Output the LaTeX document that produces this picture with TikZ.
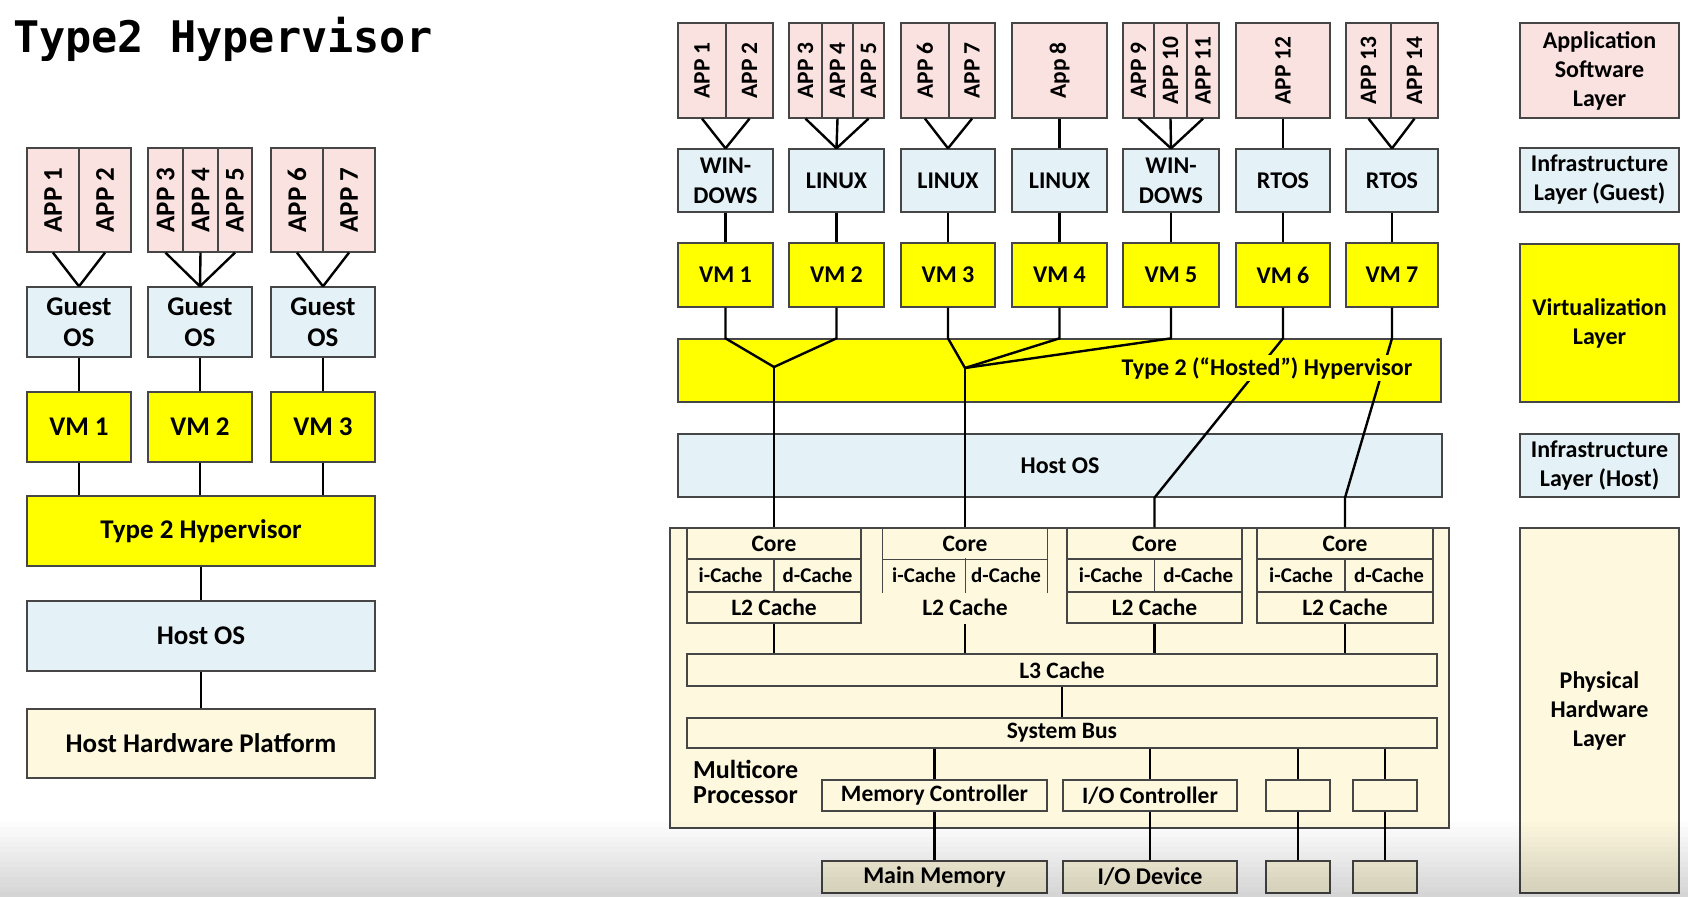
\documentclass[tikz,border=0pt]{standalone}
\usepackage{fontspec}
\setmainfont{Carlito}
\newfontfamily\titlefont{DejaVu Sans Mono}
\usepackage{graphicx}
\usetikzlibrary{positioning,calc}

\definecolor{apppink}{RGB}{250,226,224}
\definecolor{osblue}{RGB}{228,242,248}
\definecolor{vmyellow}{RGB}{255,255,0}
\definecolor{hwcream}{RGB}{253,248,222}
\definecolor{edgegray}{RGB}{70,70,70}

\begin{document}
\begin{tikzpicture}[x=1pt,y=-1pt,
  box/.style={draw=edgegray,line width=1.3pt,inner sep=0pt,align=center,font=\bfseries\fontsize{24}{30}\selectfont},
  app/.style={box,fill=apppink},
  os/.style={box,fill=osblue},
  vm/.style={box,fill=vmyellow},
  hw/.style={box,fill=hwcream},
  cell/.style={box,font=\bfseries\fontsize{23.5}{26}\selectfont},
  bare/.style={cell,draw=none},
  small/.style={font=\bfseries\fontsize{21}{24}\selectfont},
  applbl/.style={font=\bfseries\fontsize{23.5}{26}\selectfont},
  lft/.style={font=\bfseries\fontsize{27}{31}\selectfont},
  legend/.style={font=\bfseries\fontsize{24}{29}\selectfont},
  txt/.style={inner sep=0pt,font=\bfseries\fontsize{24}{26}\selectfont},
  wire/.style={line width=2.4pt,black}]
\fill[white] (0,0) rectangle (1688,897);
\useasboundingbox (0,0) rectangle (1688,897);

\node[anchor=base west,inner sep=0pt,font=\titlefont\bfseries\fontsize{43.5}{48}\selectfont] (title) at (13,52) {Type2 Hypervisor};

% left stack
\foreach \n/\x/\w/\t in {la1/53/52/APP 1,la2/105/52/APP 2,la3/165.5/35/APP 3,la4/200.5/35/APP 4,la5/235/34/APP 5,la6/297/52/APP 6,la7/349/52/APP 7}
  \node[app,lft,minimum width=\w,minimum height=104] (\n) at (\x,200) {\rotatebox{90}{\t}};
\foreach \i/\x in {1/79,2/200,3/323}{
  \node[os,lft,minimum width=104,minimum height=70] (lo\i) at (\x,322) {Guest\\OS};
  \node[vm,lft,minimum width=104,minimum height=70] (lv\i) at (\x,427) {VM \i};
}
\node[vm,lft,minimum width=348,minimum height=70] (lhyp) at (201,531) {Type 2 Hypervisor};
\node[os,lft,minimum width=348,minimum height=70] (lhost) at (201,636) {Host OS};
\node[hw,lft,minimum width=348,minimum height=69] (lhw) at (201,743.5) {Host Hardware Platform};

\foreach \a/\o in {la1/lo1,la2/lo1,la3/lo2,la4/lo2,la5/lo2,la6/lo3,la7/lo3}
  \draw[wire] (\a.south) -- (\o.north);
\foreach \i in {1,2,3}{
  \draw[wire] (lo\i) -- (lv\i);
  \draw[wire] (lv\i.south) -- (lv\i.south |- lhyp.north);
}
\draw[wire] (lhyp) -- (lhost);
\draw[wire] (lhost) -- (lhw);

% right stack: guests
\foreach \n/\x/\w/\t in {ra1/702/48/APP 1,ra2/749.5/47/APP 2,ra3/805.5/33/APP 3,ra4/837.5/31/APP 4,ra5/868.5/31/APP 5,ra6/925/48/APP 6,ra7/972/46/APP 7,ra8/1059.5/95/App 8,ra9/1138.5/31/APP 9,ra10/1170.5/33/APP 10,ra11/1203/32/APP 11,ra12/1283/94/APP 12,ra13/1368.5/45/APP 13,ra14/1414.5/47/APP 14}
  \node[app,applbl,minimum width=\w,minimum height=95] (\n) at (\x,70.5) {\rotatebox{90}{\t}};
\foreach \i/\x/\w/\t in {1/725.5/95/WIN-\\DOWS,2/836.5/95/LINUX,3/948/94/LINUX,4/1059.5/95/LINUX,5/1171/96/WIN-\\DOWS,6/1283/94/RTOS,7/1392/92/RTOS}{
  \node[os,minimum width=\w,minimum height=63] (ro\i) at (\x,180.5) {\t};
  \node[vm,minimum width=\w,minimum height=64] (rv\i) at (\x,275) {VM \i};
  \draw[wire] (ro\i) -- (rv\i);
}
\foreach \a/\o in {ra1/ro1,ra2/ro1,ra3/ro2,ra4/ro2,ra5/ro2,ra6/ro3,ra7/ro3,ra8/ro4,ra9/ro5,ra10/ro5,ra11/ro5,ra12/ro6,ra13/ro7,ra14/ro7}
  \draw[wire] (\a.south) -- (\o.north);

% hypervisor and host
\node[vm,minimum width=763,minimum height=63] (rhyp) at (1059.5,370.5) {};
\node[os,minimum width=764,minimum height=63] (rhost) at (1060,465.5) {Host OS};

% multicore processor
\node[hw,minimum width=779,minimum height=300] (proc) at (1059.5,678) {};
\foreach \k/\cx/\cw in {1/774/174,3/1154.5/175,4/1345/176}{
  \node[cell,minimum width=\cw,minimum height=31] (core\k) at (\cx,543.5) {Core};
  \node[cell,small,minimum width=\cw/2,minimum height=33] (ic\k) at ({\cx-\cw/4},575.5) {i-Cache};
  \node[cell,small,minimum width=\cw/2,minimum height=33] (dc\k) at ({\cx+\cw/4},575.5) {d-Cache};
  \node[cell,minimum width=\cw,minimum height=31] (ltwo\k) at (\cx,607.5) {L2 Cache};
}
\node[bare,minimum width=164,minimum height=31] (core2) at (965,543.5) {Core};
\node[bare,small,minimum width=82,minimum height=33] (ic2) at (924,575.5) {i-Cache};
\node[bare,small,minimum width=82,minimum height=33] (dc2) at (1006,575.5) {d-Cache};
\node[bare,minimum width=164,minimum height=31] (ltwo2) at (965,607.5) {L2 Cache};
\draw[draw=edgegray,line width=1.3pt] (core2.north west) -- (ic2.south west)
  (core2.north east) -- (dc2.south east) (core2.south west) -- (core2.south east)
  (ic2.north east) -- (ic2.south east);

\node[cell,minimum width=750,minimum height=32] (l3) at (1062,670) {L3 Cache};
\node[cell,minimum width=750,minimum height=30] (bus) at (1062,733) {System Bus};
\node[cell,minimum width=225,minimum height=31] (mc) at (934.5,795.5) {Memory Controller};
\node[cell,minimum width=174,minimum height=31] (ioc) at (1150,795.5) {I/O Controller};
\node[cell,minimum width=64,minimum height=31] (sa) at (1298,795.5) {};
\node[cell,minimum width=64,minimum height=31] (sb) at (1385,795.5) {};
\node[hw,minimum width=225,minimum height=32] (mm) at (934.5,877) {Main Memory};
\node[hw,minimum width=174,minimum height=32] (iod) at (1150,877) {I/O Device};
\node[hw,minimum width=64,minimum height=32] (da) at (1298,877) {};
\node[hw,minimum width=64,minimum height=32] (db) at (1385,877) {};
\node[txt,anchor=west,align=left,font=\bfseries\fontsize{26}{25}\selectfont] (mcp) at (693,782) {Multicore\\Processor};

% connectors through the host layers
\coordinate (m1) at (774,367);
\coordinate (m2) at (965,368);
\foreach \i/\m in {1/m1,2/m1,3/m2,4/m2,5/m2}
  \draw[wire] (rv\i.south) -- (rv\i.south |- rhyp.north) -- (\m);
\draw[wire] (m1) -- (core1.north);
\draw[wire] (m2) -- (core2.north);
\draw[wire] (rv6.south) -- (rv6.south |- rhyp.north) -- (core3.north |- rhost.south) -- (core3.north);
\draw[wire] (rv7.south) -- (rv7.south |- rhyp.north) -- (core4.north |- rhost.south) -- (core4.north);
\node[txt,fill=vmyellow,inner sep=2pt] (rhypt) at (1267,368) {Type 2 (“Hosted”) Hypervisor};

\foreach \k in {1,2,3,4}
  \draw[wire] (ltwo\k) -- (ltwo\k.south |- l3.north);
\draw[wire] (l3) -- (bus);
\foreach \c/\d in {mc/mm,ioc/iod,sa/da,sb/db}{
  \draw[wire] (bus.south -| \c) -- (\c);
  \draw[wire] (\c) -- (\d);
}

% layer legend
\node[app,legend,minimum width=159,minimum height=95] (lgapp) at (1599.5,70.5) {Application\\Software\\Layer};
\node[os,legend,minimum width=159,minimum height=64] (lgguest) at (1599.5,180) {Infrastructure\\Layer (Guest)};
\node[vm,legend,minimum width=159,minimum height=158] (lgvirt) at (1599.5,323) {Virtualization\\Layer};
\node[os,legend,minimum width=159,minimum height=63] (lghost) at (1599.5,465.5) {Infrastructure\\Layer (Host)};
\node[hw,legend,minimum width=159,minimum height=365] (lghw) at (1599.5,710.5) {Physical\\Hardware\\Layer};

% shadow band along the bottom edge
\foreach \j in {0,...,15}
  \fill[black,opacity=\j*0.011] (0,{817+\j*5}) rectangle (1688,{822+\j*5});
\end{tikzpicture}
\end{document}
